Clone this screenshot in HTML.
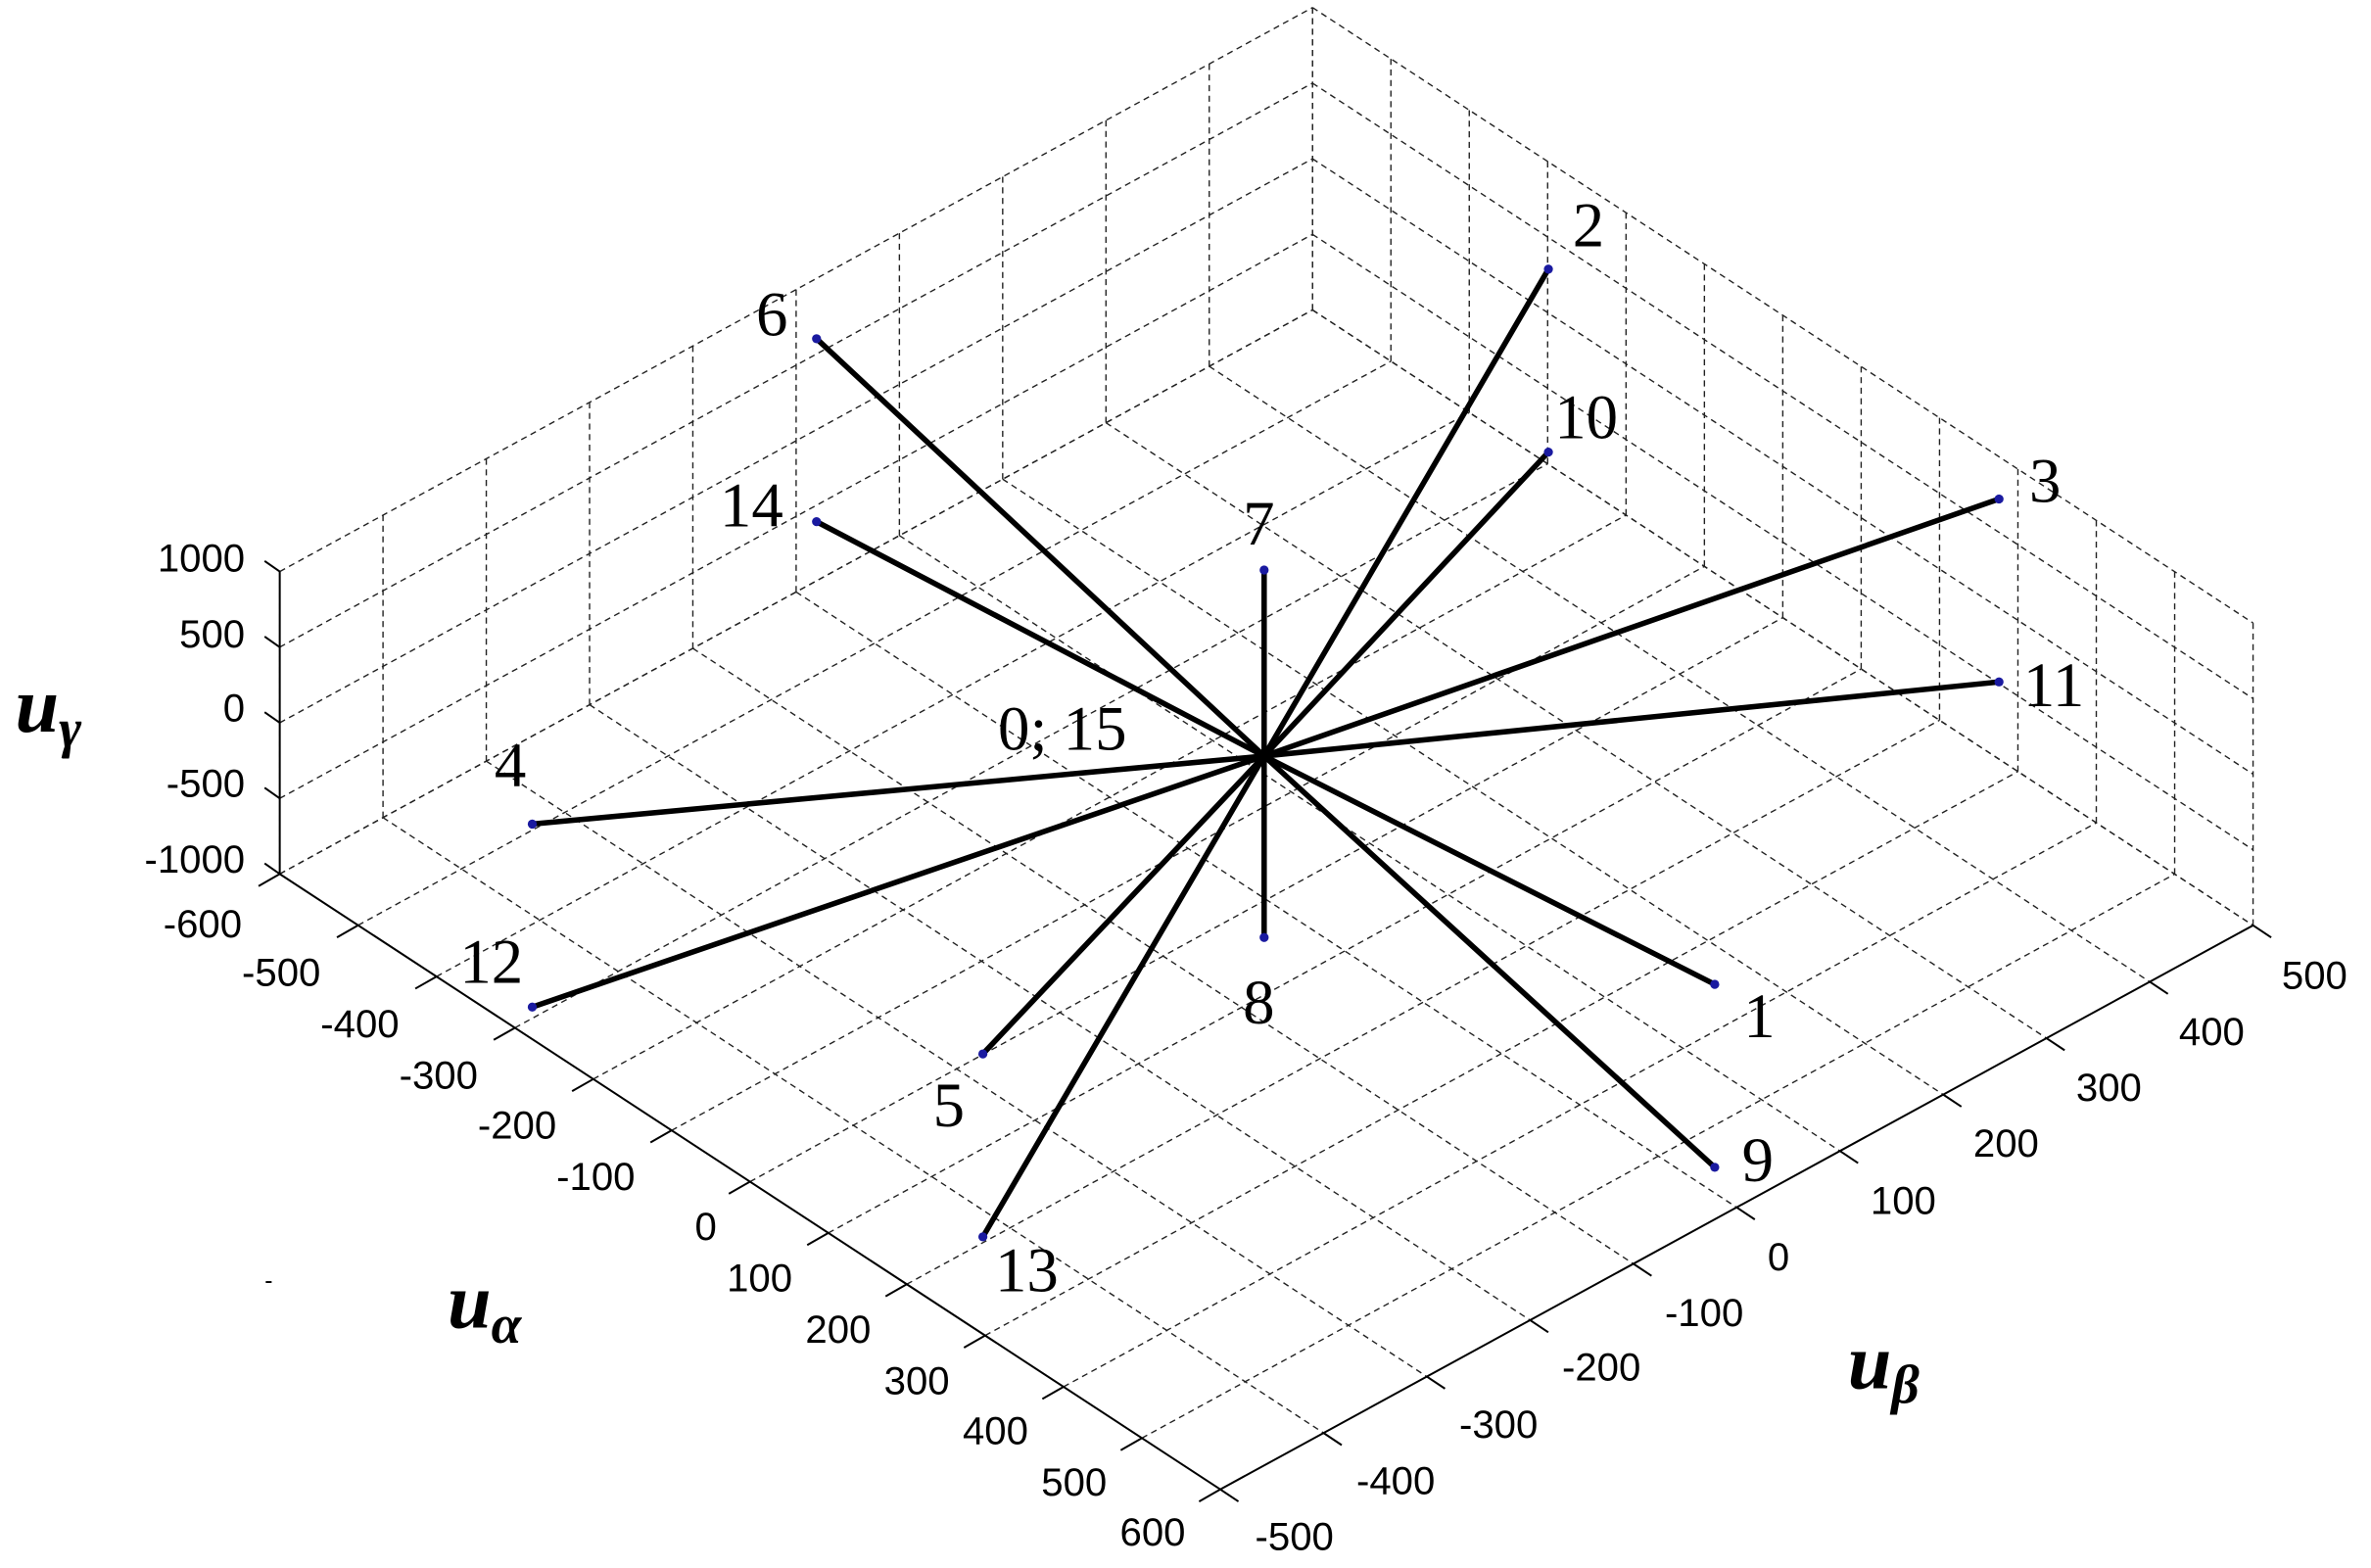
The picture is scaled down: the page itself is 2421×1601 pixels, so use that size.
<!DOCTYPE html>
<html><head><meta charset="utf-8"><style>
html,body{margin:0;padding:0;background:#fff;}
svg{display:block;}
.t{font-family:"Liberation Sans",sans-serif;font-size:26px;fill:#000;}
.n{font-family:"Liberation Serif",serif;font-size:42px;fill:#000;}
.ax{font-family:"Liberation Serif",serif;font-style:italic;font-weight:bold;fill:#000;}
</style></head><body>
<svg id="s" width="2421" height="1601" viewBox="0 0 1568 1037" preserveAspectRatio="none" xmlns="http://www.w3.org/2000/svg">
<g id="grid" stroke="#222" stroke-width="0.9" stroke-dasharray="4,3" fill="none"></g>
<g id="axes" stroke="#000" stroke-width="1.3" fill="none"></g>
<g id="vec" stroke="#000" stroke-width="3.6" stroke-linecap="round"></g>
<g id="dots" fill="#1a1aa0"></g>
<g class="t" text-anchor="end">
<text x="162" y="378">1000</text><text x="162" y="428">500</text><text x="162" y="477">0</text><text x="162" y="527">-500</text><text x="162" y="577">-1000</text>
<text x="160" y="620">-600</text><text x="212" y="652">-500</text><text x="264" y="686">-400</text><text x="316" y="720">-300</text><text x="368" y="753">-200</text><text x="420" y="787">-100</text><text x="474" y="820">0</text><text x="524" y="854">100</text><text x="576" y="888">200</text><text x="628" y="922">300</text><text x="680" y="955">400</text><text x="732" y="989">500</text><text x="784" y="1022">600</text>
</g>
<g class="t" text-anchor="start">
<text x="830" y="1025">-500</text><text x="897" y="988">-400</text><text x="965" y="951">-300</text><text x="1033" y="913">-200</text><text x="1101" y="877">-100</text><text x="1169" y="840">0</text><text x="1237" y="803">100</text><text x="1305" y="765">200</text><text x="1373" y="728">300</text><text x="1441" y="691">400</text><text x="1509" y="654">500</text>
</g>
<g class="n">
<text x="500" y="222">6</text><text x="1040" y="163">2</text><text x="476" y="348">14</text><text x="1028" y="290">10</text><text x="822" y="360">7</text><text x="1342" y="332">3</text><text x="1338" y="467">11</text><text x="327" y="520">4</text><text x="304" y="650">12</text><text x="617" y="745">5</text><text x="658" y="854">13</text><text x="822" y="677">8</text><text x="1153" y="686">1</text><text x="1152" y="781">9</text><text x="660" y="496">0; 15</text>
</g>
<text class="ax" x="10" y="484" font-size="52">u<tspan font-size="36" dy="10">γ</tspan></text>
<text class="ax" x="296" y="878" font-size="52">u<tspan font-size="36" dy="10">α</tspan></text>
<text class="ax" x="1222" y="918" font-size="52">u<tspan font-size="36" dy="10">β</tspan></text>
<text x="175" y="852" font-family="Liberation Sans" font-size="16">-</text>
</svg>
<script>
var L=[185,578],FL=[622,407],RF=[683,-373];
function P(a,b,z){var u=(a+600)/1200,v=(b+500)/1000,w=(z+1000)/2000;return [L[0]+u*FL[0]+v*RF[0],L[1]+u*FL[1]+v*RF[1]-w*200];}
var NS="http://www.w3.org/2000/svg";
function ln(g,p,q){var e=document.createElementNS(NS,"line");e.setAttribute("x1",p[0]);e.setAttribute("y1",p[1]);e.setAttribute("x2",q[0]);e.setAttribute("y2",q[1]);document.getElementById(g).appendChild(e);}
for(var a=-600;a<=600;a+=100){ln("grid",P(a,-500,-1000),P(a,500,-1000));ln("grid",P(a,500,-1000),P(a,500,1000));}
for(var b=-500;b<=500;b+=100){ln("grid",P(-600,b,-1000),P(600,b,-1000));ln("grid",P(-600,b,-1000),P(-600,b,1000));}
for(var z=-1000;z<=1000;z+=500){ln("grid",P(-600,-500,z),P(-600,500,z));ln("grid",P(-600,500,z),P(600,500,z));}
ln("axes",P(-600,-500,-1000),P(600,-500,-1000));ln("axes",P(600,-500,-1000),P(600,500,-1000));ln("axes",P(-600,-500,-1000),P(-600,-500,1000));
for(var a=-600;a<=600;a+=100){var p=P(a,-500,-1000);ln("axes",p,[p[0]-14,p[1]+8]);}
for(var b=-500;b<=500;b+=100){var p=P(600,b,-1000);ln("axes",p,[p[0]+12,p[1]+8]);}
for(var z=-1000;z<=1000;z+=500){var p=P(-600,-500,z);ln("axes",p,[p[0]-10,p[1]-7]);}
var C=[836,500],E=[[540,224],[1024,178],[540,345],[1024,299],[836,377],[1322,330],[1322,451],[352,545],[352,666],[650,697],[650,818],[836,620],[1134,651],[1134,772]];
E.forEach(function(e){ln("vec",C,e);var c=document.createElementNS(NS,"circle");c.setAttribute("cx",e[0]);c.setAttribute("cy",e[1]);c.setAttribute("r",3);document.getElementById("dots").appendChild(c);});
</script>
</body></html>
